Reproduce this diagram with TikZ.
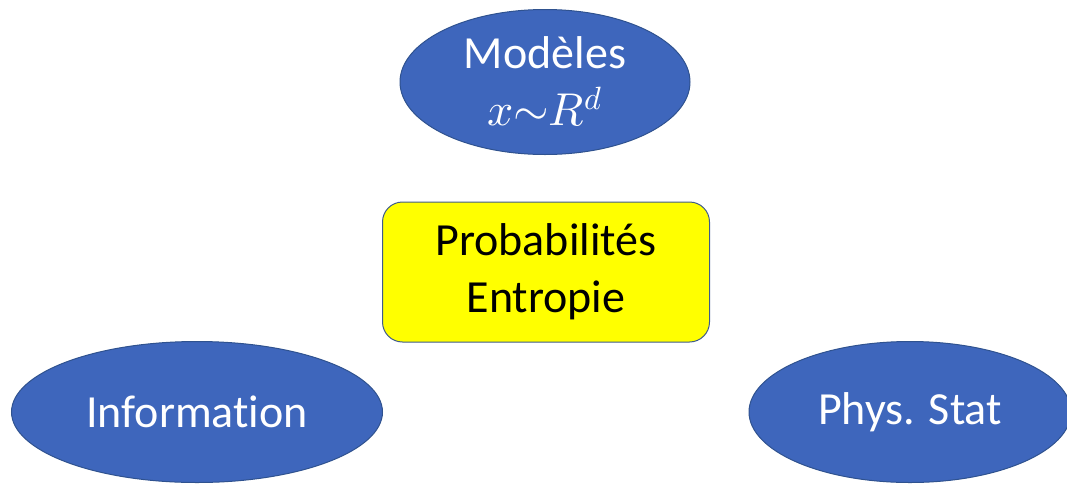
\documentclass[tikz,border=0pt]{standalone}
\usepackage{unicode-math}
\setmainfont{Carlito}[Ligatures=NoCommon]
\setmathfont{Latin Modern Math}
\usetikzlibrary{shapes.geometric}
\definecolor{blobblue}{RGB}{62,102,188}
\definecolor{blobedge}{RGB}{47,82,143}
\definecolor{probyellow}{RGB}{255,255,0}

\begin{document}
\begin{tikzpicture}
[x=1pt,y=-1pt,
 every node/.style={font=\fontsize{46}{57}\selectfont,align=center,inner sep=0pt},
 blob/.style={ellipse,fill=blobblue,draw=blobedge,line width=1pt,text=white},
 probbox/.style={rectangle,rounded corners=20pt,fill=probyellow,draw=blobedge!80!gray,line width=1pt,text=black}]
\useasboundingbox (0,0) rectangle (1067,485);
\clip (0,0) rectangle (1067,485);
\node[blob,minimum width=290pt,minimum height=145pt] (mod) at (545,82) {Modèles\\$x{\sim}R^{d}$};
\node[probbox,minimum width=327pt,minimum height=140pt] (prob) at (546,272) {Probabilités\\Entropie};
\node[blob,minimum width=371pt,minimum height=141pt] (info) at (197,412) {Information};
\node[blob,minimum width=322pt,minimum height=141pt] (phys) at (910,412) {Phys. Stat};
\end{tikzpicture}
\end{document}
